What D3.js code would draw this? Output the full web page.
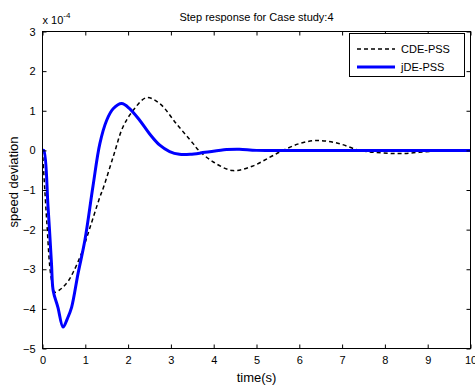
<!DOCTYPE html>
<html>
<head>
<meta charset="utf-8">
<script src="https://cdn.jsdelivr.net/npm/d3@7"></script>
<style>
  body { margin: 0; background: #fff; }
  svg { font-family: "Liberation Sans", Arial, sans-serif; }
</style>
</head>
<body>
<svg id="chart" width="475" height="385"></svg>
<script>
// Values (speed deviation in units of 1e-4).
const cdeTime = [0, 0.1, 0.2, 0.29, 0.4, 0.48, 0.6, 0.72, 0.91, 1.1, 1.34, 1.42, 1.65, 1.88, 2.12, 2.43,
  2.74, 3.13, 3.52, 3.65, 4.0, 4.45, 4.9, 5.3, 5.62, 6.0, 6.4, 6.9, 7.41, 7.9, 8.35, 8.8, 9.3, 10];
const cdeValue = [0, -1.8, -3.2, -3.58, -3.52, -3.45, -3.3, -3.07, -2.6, -1.98, -1.18, -0.95, -0.17, 0.59, 1.01, 1.33,
  1.18, 0.67, 0.17, 0, -0.3, -0.51, -0.4, -0.18, 0, 0.17, 0.25, 0.18, 0, -0.06, -0.08, -0.05, -0.01, 0];

const jdeTime = [0, 0.03, 0.13, 0.21, 0.25, 0.36, 0.48, 0.58, 0.68, 0.83, 0.99, 1.18, 1.34, 1.5, 1.65, 1.85,
  2.04, 2.27, 2.5, 2.74, 2.97, 3.2, 3.45, 3.8, 4.3, 4.6, 5.0, 6, 7, 8, 9, 10];
const jdeValue = [0, 0, -1.43, -2.86, -3.54, -3.96, -4.46, -4.25, -3.96, -3.11, -2.27, -0.9, 0.17, 0.76, 1.05, 1.18,
  1.05, 0.76, 0.42, 0.13, -0.03, -0.1, -0.1, -0.05, 0.02, 0.03, 0.0, 0, 0, 0, 0, 0];

const xTicks = [0, 1, 2, 3, 4, 5, 6, 7, 8, 9, 10];
const yTicks = [-5, -4, -3, -2, -1, 0, 1, 2, 3];

const svg = d3.select("#chart");
const axLeft = 42.5, axRight = 470.5, axTop = 31.5, axBottom = 348.5;

const x = d3.scaleLinear().domain([0, 10]).range([axLeft, axRight]);
const y = d3.scaleLinear().domain([-5, 3]).range([axBottom, axTop]);

// Curves, clipped to the axes box.
svg.append("clipPath").attr("id", "plotArea")
  .append("rect")
  .attr("x", axLeft).attr("y", axTop)
  .attr("width", axRight - axLeft).attr("height", axBottom - axTop);

const line = d3.line()
  .x(d => x(d[0]))
  .y(d => y(d[1]))
  .curve(d3.curveCatmullRom.alpha(0.5));

const plot = svg.append("g").attr("clip-path", "url(#plotArea)");

plot.append("path")
  .datum(cdeTime.map((t, i) => [t, cdeValue[i]]))
  .attr("d", line)
  .attr("fill", "none")
  .attr("stroke", "#000")
  .attr("stroke-width", 1.5)
  .attr("stroke-dasharray", "4,3");

plot.append("path")
  .datum(jdeTime.map((t, i) => [t, jdeValue[i]]))
  .attr("d", line)
  .attr("fill", "none")
  .attr("stroke", "#0000ff")
  .attr("stroke-width", 3)
  .attr("stroke-linejoin", "round");

// MATLAB style box with inward ticks on every side.
const tickLen = 4;
function styleAxis(g) {
  g.select(".domain").remove();
  g.selectAll(".tick line").attr("stroke", "#000");
  g.selectAll(".tick text").attr("font-size", 11).attr("fill", "#000");
}

svg.append("g")
  .attr("transform", `translate(0,${axBottom})`)
  .call(d3.axisBottom(x).tickValues(xTicks).tickSize(-tickLen).tickPadding(8))
  .call(styleAxis);

svg.append("g")
  .attr("transform", `translate(0,${axTop})`)
  .call(d3.axisTop(x).tickValues(xTicks).tickSize(-tickLen).tickFormat(""))
  .call(styleAxis);

svg.append("g")
  .attr("transform", `translate(${axLeft},0)`)
  .call(d3.axisLeft(y).tickValues(yTicks).tickSize(-tickLen).tickPadding(7))
  .call(styleAxis);

svg.append("g")
  .attr("transform", `translate(${axRight},0)`)
  .call(d3.axisRight(y).tickValues(yTicks).tickSize(-tickLen).tickFormat(""))
  .call(styleAxis);

svg.append("rect")
  .attr("x", axLeft).attr("y", axTop)
  .attr("width", axRight - axLeft).attr("height", axBottom - axTop)
  .attr("fill", "none")
  .attr("stroke", "#000")
  .attr("stroke-width", 1);

// Exponent label.
const expo = svg.append("text")
  .attr("x", axLeft)
  .attr("y", 24)
  .attr("font-size", 11);
expo.append("tspan").text("x 10");
expo.append("tspan").attr("font-size", 8).attr("dy", -6).text("-4");

// Title and axis labels.
svg.append("text")
  .attr("x", (axLeft + axRight) / 2)
  .attr("y", 21)
  .attr("text-anchor", "middle")
  .attr("font-size", 11)
  .text("Step response for Case study:4");

svg.append("text")
  .attr("x", (axLeft + axRight) / 2)
  .attr("y", 382)
  .attr("text-anchor", "middle")
  .attr("font-size", 13)
  .text("time(s)");

svg.append("text")
  .attr("transform", `translate(18,${(axTop + axBottom) / 2 - 8}) rotate(-90)`)
  .attr("text-anchor", "middle")
  .attr("font-size", 13)
  .text("speed deviation");

// Legend.
const legend = svg.append("g");
legend.append("rect")
  .attr("x", 349.5).attr("y", 33.5)
  .attr("width", 115).attr("height", 43)
  .attr("fill", "#fff")
  .attr("stroke", "#000");

const legendItems = [
  { name: "CDE-PSS", color: "#000", width: 1.5, dash: "4,3" },
  { name: "jDE-PSS", color: "#0000ff", width: 3, dash: null }
];

legendItems.forEach((d, i) => {
  const ly = 49 + i * 18;
  legend.append("line")
    .attr("x1", 357).attr("x2", 395)
    .attr("y1", ly).attr("y2", ly)
    .attr("stroke", d.color)
    .attr("stroke-width", d.width)
    .attr("stroke-dasharray", d.dash);
  legend.append("text")
    .attr("x", 401)
    .attr("y", ly + 4)
    .attr("font-size", 11)
    .text(d.name);
});
</script>
</body>
</html>
